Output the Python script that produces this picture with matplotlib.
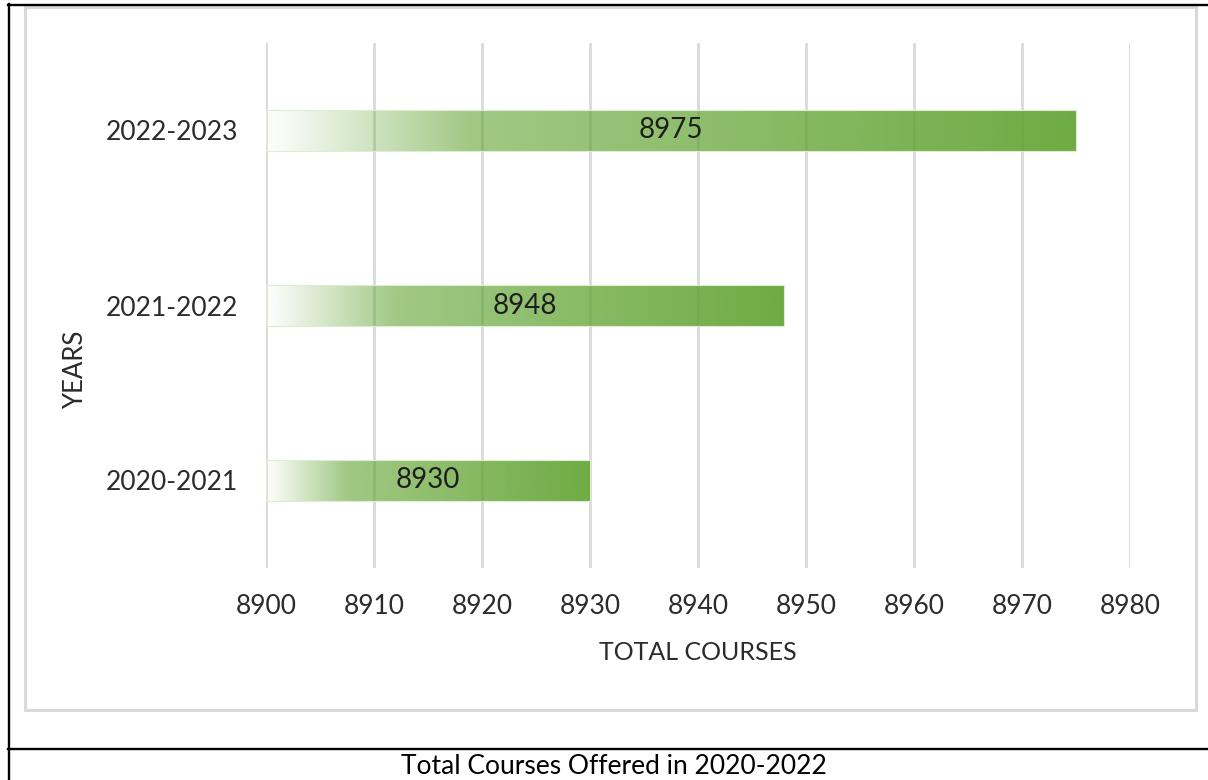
import numpy as np
import matplotlib
matplotlib.use("Agg")
import matplotlib.pyplot as plt
from matplotlib.colors import to_rgb
from matplotlib.lines import Line2D
from matplotlib.patches import Rectangle

# Data
years = ["2020-2021", "2021-2022", "2022-2023"]
total_courses = [8930, 8948, 8975]
x_ticks = [8900, 8910, 8920, 8930, 8940, 8950, 8960, 8970, 8980]
x_title = "TOTAL COURSES"
y_title = "YEARS"
caption = "Total Courses Offered in 2020-2022"

plt.rcParams['font.family'] = ['Lato', 'DejaVu Sans']

W, H = 1208, 780
fig = plt.figure(figsize=(W / 100, H / 100), dpi=100)
fig.patch.set_facecolor('white')

ax = fig.add_axes([266 / W, 212 / H, 864 / W, 525 / H])
x_min, x_max = x_ticks[0], x_ticks[-1]

bars = ax.barh(years, [v - x_min for v in total_courses], left=x_min,
               height=0.234, facecolor='none', edgecolor='#DCEDD0',
               linewidth=0.8, zorder=3)

# Horizontal green gradient fill inside each bar
green = np.array(to_rgb('#62A433'))
n = 256
pos = np.linspace(0, 1, n)
alpha = np.interp(pos, [0.0, 0.25, 1.0], [0.0, 0.6, 0.92])
grad = np.zeros((1, n, 4))
grad[..., :3] = green
grad[..., 3] = alpha

for patch, val in zip(bars.patches, total_courses):
    x0, y0 = patch.get_x(), patch.get_y()
    w, h = patch.get_width(), patch.get_height()
    ax.imshow(grad, extent=[x0, x0 + w, y0, y0 + h], aspect='auto',
              interpolation='bilinear', zorder=2)
    ax.text(x0 + w / 2, y0 + h / 2, f"{val}", ha='center', va='center',
            fontsize=20, color='#1e1e1e', zorder=4)

ax.set_xlim(x_min, x_max)
ax.set_ylim(-0.5, len(years) - 0.5)
ax.set_xticks(x_ticks)
ax.set_xticklabels([str(t) for t in x_ticks])
ax.grid(axis='x', color='#D9D9D9', linewidth=2.0)
ax.grid(axis='y', visible=False)
ax.set_axisbelow(True)
for s in ax.spines.values():
    s.set_visible(False)
ax.tick_params(axis='x', length=0, pad=19, labelsize=19, labelcolor='#2b2b2b')
ax.tick_params(axis='y', length=0, pad=20, labelsize=19, labelcolor='#2b2b2b')

ax.text(0.5, -0.16, x_title, transform=ax.transAxes, ha='center',
        va='center', fontsize=18, color='#2b2b2b')
ax.text(-0.221, 0.377, y_title, transform=ax.transAxes, ha='center',
        va='center', rotation=90, fontsize=18.5, color='#2b2b2b')

# Chart area frame
fig.add_artist(Rectangle((24.5 / W, 1 - 710 / H), (1196 - 24.5) / W,
                         (710 - 6.5) / H, transform=fig.transFigure,
                         fill=False, edgecolor='#D9D9D9', linewidth=2.2))

# Table borders
lw = 1.7
fig.add_artist(Line2D([9 / W, 9 / W], [0, 1 - 4 / H], color='black',
                      linewidth=lw, transform=fig.transFigure))
fig.add_artist(Line2D([8 / W, 1], [1 - 5 / H, 1 - 5 / H], color='black',
                      linewidth=lw, transform=fig.transFigure))
fig.add_artist(Line2D([8 / W, 1], [1 - 749 / H, 1 - 749 / H], color='black',
                      linewidth=lw, transform=fig.transFigure))

fig.text(614 / W, 1 - 766 / H, caption, ha='center', va='center',
         fontsize=19, color='black')

fig.savefig('out.png', dpi=100)
